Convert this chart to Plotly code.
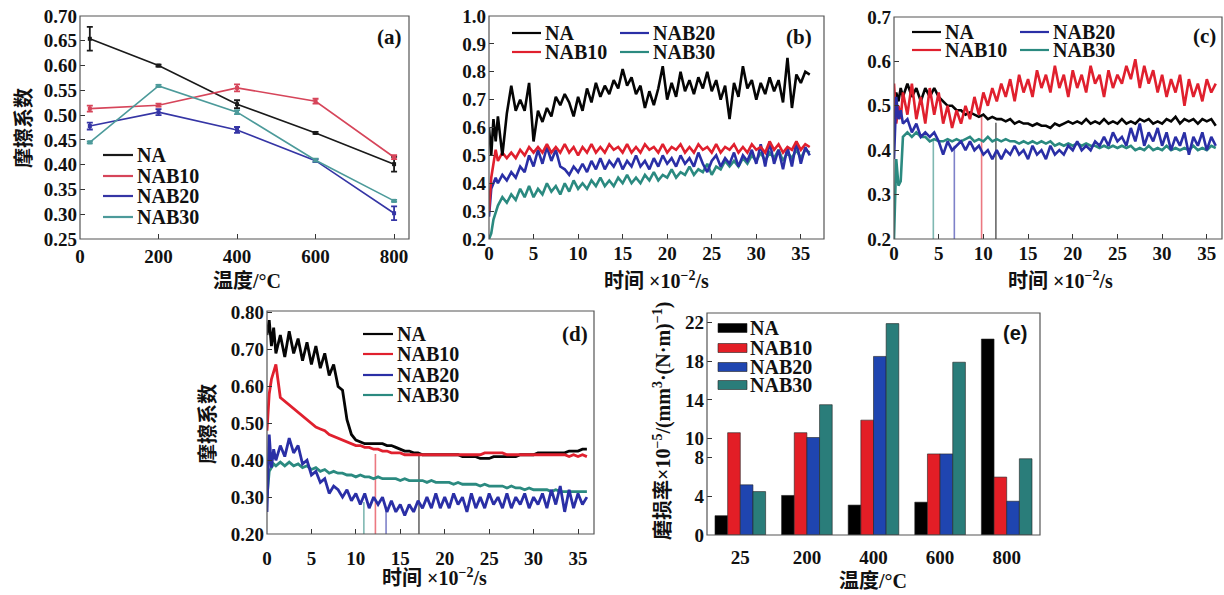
import plotly.graph_objects as go

# ---------------- data ----------------
SERIES = ["NA", "NAB10", "NAB20", "NAB30"]

# (a) friction coefficient vs temperature
A_TEMP = [25, 200, 400, 600, 800]
A_NA = [0.654, 0.600, 0.522, 0.464, 0.401]
A_NA_ERR = [0.024, 0.002, 0.008, 0.002, 0.015]
A_NAB10 = [0.513, 0.520, 0.555, 0.528, 0.415]
A_NAB10_ERR = [0.006, 0.003, 0.007, 0.005, 0.004]
A_NAB20 = [0.478, 0.506, 0.470, 0.408, 0.302]
A_NAB20_ERR = [0.007, 0.006, 0.006, 0.003, 0.014]
A_NAB30 = [0.445, 0.559, 0.506, 0.409, 0.327]
A_NAB30_ERR = [0.002, 0.002, 0.004, 0.003, 0.002]

# time grid (x10^2 s) for panels b, c, d
TIME = [0, 0.25, 0.5, 0.75, 1.0, 1.5, 2.0, 2.5, 3.0, 3.5,
        4.0, 4.5, 5.0, 5.5, 6.0, 6.5, 7.0, 7.5, 8.0, 8.5,
        9.0, 9.5, 10.0, 10.5, 11.0, 11.5, 12.0, 12.5, 13.0, 13.5,
        14.0, 14.5, 15.0, 15.5, 16.0, 16.5, 17.0, 17.5, 18.0, 18.5,
        19.0, 19.5, 20.0, 20.5, 21.0, 21.5, 22.0, 22.5, 23.0, 23.5,
        24.0, 24.5, 25.0, 25.5, 26.0, 26.5, 27.0, 27.5, 28.0, 28.5,
        29.0, 29.5, 30.0, 30.5, 31.0, 31.5, 32.0, 32.5, 33.0, 33.5,
        34.0, 34.5, 35.0, 35.5, 36.0]

# (b)
B_NA = [0.60, 0.50, 0.63, 0.55, 0.64, 0.50, 0.65, 0.75, 0.66, 0.70,
        0.66, 0.76, 0.55, 0.66, 0.62, 0.67, 0.64, 0.71, 0.68, 0.72,
        0.69, 0.64, 0.71, 0.66, 0.74, 0.69, 0.76, 0.71, 0.75, 0.72,
        0.77, 0.74, 0.81, 0.75, 0.78, 0.72, 0.75, 0.67, 0.73, 0.68,
        0.74, 0.82, 0.70, 0.76, 0.71, 0.80, 0.73, 0.77, 0.72, 0.78,
        0.74, 0.80, 0.73, 0.77, 0.70, 0.75, 0.63, 0.76, 0.71, 0.82,
        0.74, 0.77, 0.70, 0.76, 0.72, 0.78, 0.73, 0.77, 0.69, 0.85,
        0.67, 0.79, 0.76, 0.80, 0.79]
B_NAB10 = [0.30, 0.42, 0.47, 0.52, 0.48, 0.51, 0.49, 0.51, 0.49, 0.52,
           0.50, 0.53, 0.51, 0.53, 0.51, 0.54, 0.51, 0.53, 0.51, 0.54,
           0.51, 0.53, 0.50, 0.53, 0.51, 0.54, 0.51, 0.53, 0.51, 0.54,
           0.52, 0.53, 0.51, 0.54, 0.51, 0.53, 0.51, 0.54, 0.52, 0.53,
           0.51, 0.54, 0.51, 0.53, 0.52, 0.54, 0.51, 0.53, 0.51, 0.54,
           0.52, 0.53, 0.51, 0.54, 0.51, 0.53, 0.52, 0.54, 0.51, 0.53,
           0.51, 0.54, 0.52, 0.53, 0.51, 0.55, 0.52, 0.54, 0.51, 0.53,
           0.52, 0.55, 0.52, 0.54, 0.53]
B_NAB20 = [0.28, 0.38, 0.40, 0.42, 0.40, 0.43, 0.41, 0.44, 0.42, 0.46,
           0.44, 0.50, 0.46, 0.52, 0.47, 0.53, 0.48, 0.52, 0.46, 0.45,
           0.43, 0.46, 0.44, 0.47, 0.44, 0.48, 0.45, 0.49, 0.45, 0.48,
           0.46, 0.49, 0.45, 0.48, 0.46, 0.50, 0.46, 0.48, 0.45, 0.49,
           0.46, 0.50, 0.47, 0.49, 0.46, 0.50, 0.47, 0.49, 0.46, 0.51,
           0.47, 0.44, 0.48, 0.50, 0.46, 0.49, 0.47, 0.51, 0.46, 0.50,
           0.48, 0.52, 0.47, 0.54, 0.46, 0.55, 0.47, 0.52, 0.45, 0.53,
           0.46, 0.55, 0.47, 0.53, 0.50]
B_NAB30 = [0.20, 0.22, 0.27, 0.30, 0.32, 0.35, 0.33, 0.36, 0.34, 0.38,
           0.35, 0.39, 0.35, 0.38, 0.36, 0.40, 0.37, 0.39, 0.36, 0.40,
           0.37, 0.41, 0.38, 0.40, 0.38, 0.41, 0.39, 0.42, 0.39, 0.41,
           0.39, 0.42, 0.40, 0.43, 0.40, 0.42, 0.40, 0.43, 0.41, 0.44,
           0.41, 0.43, 0.42, 0.45, 0.42, 0.44, 0.43, 0.46, 0.43, 0.45,
           0.44, 0.47, 0.43, 0.46, 0.45, 0.48, 0.46, 0.48, 0.46, 0.49,
           0.47, 0.50, 0.48, 0.51, 0.48, 0.51, 0.49, 0.52, 0.48, 0.51,
           0.49, 0.52, 0.49, 0.52, 0.51]

# (c)
C_NA = [0.47, 0.53, 0.51, 0.54, 0.52, 0.55, 0.52, 0.54, 0.51, 0.54,
        0.52, 0.54, 0.52, 0.51, 0.50, 0.50, 0.49, 0.49, 0.48, 0.485,
        0.48, 0.475, 0.48, 0.47, 0.475, 0.47, 0.47, 0.465, 0.47, 0.46,
        0.465, 0.46, 0.46, 0.455, 0.46, 0.455, 0.455, 0.45, 0.46, 0.455,
        0.46, 0.465, 0.46, 0.465, 0.46, 0.47, 0.46, 0.465, 0.46, 0.47,
        0.46, 0.465, 0.46, 0.47, 0.46, 0.465, 0.46, 0.47, 0.465, 0.47,
        0.46, 0.465, 0.46, 0.47, 0.465, 0.475, 0.46, 0.47, 0.465, 0.47,
        0.46, 0.47, 0.465, 0.47, 0.455]
C_NAB10 = [0.55, 0.46, 0.50, 0.47, 0.53, 0.48, 0.55, 0.47, 0.52, 0.46,
           0.54, 0.48, 0.53, 0.46, 0.50, 0.45, 0.49, 0.46, 0.50, 0.47,
           0.52, 0.48, 0.53, 0.50, 0.54, 0.51, 0.55, 0.52, 0.56, 0.51,
           0.57, 0.53, 0.56, 0.52, 0.58, 0.54, 0.57, 0.53, 0.59, 0.54,
           0.57, 0.52, 0.58, 0.54, 0.57, 0.53, 0.59, 0.55, 0.57, 0.52,
           0.58, 0.54, 0.57, 0.55, 0.59, 0.56, 0.605, 0.54, 0.59, 0.55,
           0.58, 0.53, 0.57, 0.52, 0.56, 0.53, 0.57, 0.50, 0.56, 0.52,
           0.55, 0.51, 0.56, 0.53, 0.55]
C_NAB20 = [0.38, 0.52, 0.47, 0.49, 0.46, 0.47, 0.44, 0.46, 0.43, 0.44,
           0.43, 0.44, 0.42, 0.39, 0.42, 0.40, 0.41, 0.42, 0.40, 0.42,
           0.40, 0.41, 0.39, 0.40, 0.38, 0.40, 0.38, 0.40, 0.39, 0.41,
           0.39, 0.40, 0.38, 0.41, 0.39, 0.40, 0.38, 0.41, 0.39, 0.40,
           0.39, 0.41, 0.40, 0.42, 0.40, 0.41, 0.40, 0.42, 0.41, 0.43,
           0.41, 0.44, 0.42, 0.43, 0.41, 0.45, 0.42, 0.46, 0.41, 0.44,
           0.42, 0.45, 0.41, 0.44, 0.40, 0.43, 0.41, 0.44, 0.39, 0.43,
           0.41, 0.44, 0.40, 0.43, 0.41]
C_NAB30 = [0.20, 0.38, 0.32, 0.33, 0.43, 0.44, 0.43, 0.44, 0.43, 0.43,
           0.42, 0.425, 0.42, 0.42, 0.425, 0.42, 0.425, 0.42, 0.425, 0.43,
           0.42, 0.425, 0.42, 0.43, 0.42, 0.425, 0.42, 0.425, 0.42, 0.42,
           0.415, 0.42, 0.415, 0.42, 0.415, 0.42, 0.415, 0.42, 0.41, 0.415,
           0.41, 0.415, 0.41, 0.415, 0.41, 0.415, 0.41, 0.41, 0.405, 0.41,
           0.405, 0.41, 0.405, 0.41, 0.405, 0.41, 0.40, 0.405, 0.40, 0.41,
           0.40, 0.405, 0.40, 0.41, 0.40, 0.405, 0.40, 0.405, 0.40, 0.41,
           0.40, 0.405, 0.40, 0.41, 0.405]
C_MARK_X = [11.4, 9.8, 6.75, 4.4]      # NA, NAB10, NAB20, NAB30
C_MARK_Y = [0.462, 0.478, 0.41, 0.423]

# (d)
D_NA = [0.74, 0.78, 0.71, 0.76, 0.69, 0.74, 0.68, 0.75, 0.69, 0.73,
        0.67, 0.72, 0.66, 0.71, 0.65, 0.69, 0.63, 0.66, 0.60, 0.59,
        0.51, 0.47, 0.455, 0.45, 0.445, 0.445, 0.445, 0.445, 0.445, 0.44,
        0.44, 0.435, 0.43, 0.425, 0.425, 0.42, 0.42, 0.415, 0.415, 0.415,
        0.415, 0.415, 0.415, 0.415, 0.415, 0.415, 0.41, 0.41, 0.41, 0.41,
        0.405, 0.405, 0.405, 0.41, 0.41, 0.41, 0.41, 0.41, 0.41, 0.415,
        0.415, 0.415, 0.415, 0.42, 0.42, 0.42, 0.42, 0.42, 0.42, 0.42,
        0.425, 0.425, 0.425, 0.43, 0.43]
D_NAB10 = [0.48, 0.58, 0.62, 0.64, 0.66, 0.57, 0.56, 0.55, 0.54, 0.53,
           0.52, 0.51, 0.50, 0.49, 0.485, 0.48, 0.47, 0.465, 0.46, 0.455,
           0.45, 0.445, 0.44, 0.44, 0.435, 0.435, 0.43, 0.43, 0.425, 0.425,
           0.42, 0.42, 0.42, 0.415, 0.415, 0.415, 0.415, 0.415, 0.415, 0.415,
           0.415, 0.415, 0.415, 0.415, 0.415, 0.415, 0.415, 0.415, 0.415, 0.415,
           0.415, 0.42, 0.42, 0.42, 0.42, 0.42, 0.415, 0.415, 0.415, 0.415,
           0.415, 0.415, 0.415, 0.415, 0.415, 0.415, 0.415, 0.415, 0.415, 0.415,
           0.41, 0.415, 0.41, 0.415, 0.41]
D_NAB20 = [0.26, 0.47, 0.38, 0.43, 0.40, 0.44, 0.41, 0.46, 0.42, 0.44,
           0.39, 0.40, 0.36, 0.37, 0.34, 0.35, 0.31, 0.33, 0.32, 0.30,
           0.32, 0.29, 0.31, 0.28, 0.31, 0.27, 0.30, 0.28, 0.30, 0.26,
           0.29, 0.26, 0.28, 0.25, 0.28, 0.26, 0.29, 0.27, 0.30, 0.27,
           0.31, 0.27, 0.30, 0.27, 0.31, 0.28, 0.30, 0.26, 0.31, 0.27,
           0.30, 0.27, 0.31, 0.28, 0.30, 0.27, 0.31, 0.27, 0.30, 0.28,
           0.31, 0.27, 0.30, 0.28, 0.31, 0.27, 0.32, 0.28, 0.33, 0.26,
           0.32, 0.27, 0.31, 0.28, 0.30]
D_NAB30 = [0.30, 0.37, 0.38, 0.39, 0.385, 0.395, 0.385, 0.395, 0.385, 0.39,
           0.38, 0.385, 0.375, 0.38, 0.37, 0.375, 0.365, 0.37, 0.365, 0.365,
           0.36, 0.36, 0.355, 0.36, 0.355, 0.355, 0.35, 0.355, 0.35, 0.35,
           0.35, 0.35, 0.345, 0.35, 0.345, 0.345, 0.345, 0.345, 0.34, 0.345,
           0.34, 0.34, 0.34, 0.34, 0.335, 0.34, 0.335, 0.335, 0.335, 0.335,
           0.33, 0.335, 0.33, 0.33, 0.33, 0.33, 0.325, 0.33, 0.325, 0.325,
           0.32, 0.325, 0.32, 0.32, 0.32, 0.32, 0.315, 0.32, 0.315, 0.315,
           0.315, 0.315, 0.315, 0.315, 0.315]
D_MARK_X = [17.1, 12.2, 13.4, 10.9]    # NA, NAB10, NAB20, NAB30
D_MARK_Y = [0.416, 0.417, 0.27, 0.287]

# (e) wear rate
E_TEMP = ["25", "200", "400", "600", "800"]
E_NA = [2.0, 4.1, 3.1, 3.4, 20.3]
E_NAB10 = [10.6, 10.6, 11.9, 8.4, 6.0]
E_NAB20 = [5.2, 10.1, 18.5, 8.4, 3.5]
E_NAB30 = [4.5, 13.5, 21.9, 17.9, 7.9]

# ---------------- styling ----------------
W, H = 1224, 595
LINE_A = ["#1a1a1a", "#d6455a", "#3535a5", "#4c9a9a"]
LINE_T = ["#050505", "#e0202e", "#2a2fa6", "#2b8a80"]
BAR_C = ["#000000", "#e31e26", "#1f45b0", "#2a7d7a"]
SERIF = "Liberation Serif"
MIX = "Liberation Serif, Noto Sans CJK SC"
CJK = "Noto Sans CJK SC"


def px(x):
    return x / W


def py(y):
    return 1 - y / H


fig = go.Figure()

# (a)
a_vals = [A_NA, A_NAB10, A_NAB20, A_NAB30]
a_errs = [A_NA_ERR, A_NAB10_ERR, A_NAB20_ERR, A_NAB30_ERR]
for name, v, e, c in zip(SERIES, a_vals, a_errs, LINE_A):
    fig.add_trace(go.Scatter(
        x=A_TEMP, y=v, name=name, mode="lines+markers",
        line=dict(color=c, width=1.6), marker=dict(color=c, size=4, symbol="square"),
        error_y=dict(type="data", array=e, color=c, thickness=1.8, width=3),
        xaxis="x", yaxis="y", showlegend=False))

# (b), (c), (d)
panels = [
    ("x2", "y2", [B_NA, B_NAB10, B_NAB20, B_NAB30], None, None),
    ("x3", "y3", [C_NA, C_NAB10, C_NAB20, C_NAB30], C_MARK_X, C_MARK_Y),
    ("x4", "y4", [D_NA, D_NAB10, D_NAB20, D_NAB30], D_MARK_X, D_MARK_Y),
]
for xa, ya, vals, mx, my in panels:
    if mx is not None:
        for i, c in enumerate(LINE_T):
            fig.add_trace(go.Scatter(
                x=[mx[i], mx[i]], y=[0.2, my[i]], mode="lines",
                line=dict(color=c, width=1.6), opacity=0.6,
                xaxis=xa, yaxis=ya, showlegend=False, hoverinfo="skip"))
    order = [3, 2, 1, 0] if xa == "x2" else [0, 1, 3, 2]
    for i in order:
        w = 2.6 if xa != "x4" else 2.8
        fig.add_trace(go.Scatter(
            x=TIME, y=vals[i], name=SERIES[i], mode="lines",
            line=dict(color=LINE_T[i], width=w),
            xaxis=xa, yaxis=ya, showlegend=False))

# (e)
for name, v, c in zip(SERIES, [E_NA, E_NAB10, E_NAB20, E_NAB30], BAR_C):
    fig.add_trace(go.Bar(
        x=E_TEMP, y=v, name=name, marker=dict(color=c, line=dict(color="#222", width=0.6)),
        xaxis="x5", yaxis="y5", showlegend=False))

tickfont = dict(family=SERIF, size=19, color="#111", weight="bold")


def xax(domain, rng, dtick, anchor, standoff, **kw):
    d = dict(domain=domain, range=rng, dtick=dtick, tick0=0, anchor=anchor,
             showgrid=False, zeroline=False, showline=False, automargin=False,
             ticks="inside", ticklen=5, tickcolor="#333", tickwidth=1,
             tickfont=tickfont, ticklabelstandoff=standoff)
    d.update(kw)
    return d


def yax(domain, rng, dtick, anchor, fmt, **kw):
    d = dict(domain=domain, range=rng, dtick=dtick, tick0=0, anchor=anchor,
             showgrid=False, zeroline=False, showline=False, automargin=False,
             ticks="inside", ticklen=5, tickcolor="#333", tickwidth=1,
             tickfont=tickfont, tickformat=fmt, ticklabelstandoff=2)
    d.update(kw)
    return d


YA = [py(239), py(16)]
fig.update_layout(
    width=W, height=H, margin=dict(l=0, r=0, t=0, b=0, autoexpand=False),
    paper_bgcolor="white", plot_bgcolor="white",
    barmode="group", bargap=0.24, bargroupgap=0,
    xaxis=xax([px(80), px(409)], [0, 838], 200, "y", 4),
    yaxis=yax(YA, [0.25, 0.70], 0.05, "x", ".2f"),
    xaxis2=xax([px(489), px(824)], [0, 37.6], 5, "y2", 1),
    yaxis2=yax(YA, [0.2, 1.0], 0.1, "x2", ".1f"),
    xaxis3=xax([px(894), px(1222)], [0, 36.7], 5, "y3", 1),
    yaxis3=yax([py(239), py(17)], [0.2, 0.7], 0.1, "x3", ".1f"),
    xaxis4=xax([px(267), px(594)], [0, 36.8], 5, "y4", 11),
    yaxis4=yax([py(534), py(311)], [0.2, 0.805], 0.1, "x4", ".2f"),
    xaxis5=dict(domain=[px(707), px(1040)], anchor="y5", type="category",
                showgrid=False, zeroline=False, showline=False, ticks="",
                automargin=False, tickfont=tickfont, ticklabelstandoff=9),
    yaxis5=yax([py(535), py(313)], [0, 23], None, "x5", "d",
               tickmode="array", tickvals=[0, 4, 8, 10, 14, 18, 22]),
)

# frames
shapes = []
for xa, ya in [("x", "y"), ("x2", "y2"), ("x3", "y3"), ("x4", "y4"), ("x5", "y5")]:
    shapes.append(dict(type="rect", xref=xa + " domain", yref=ya + " domain",
                       x0=0, x1=1, y0=0, y1=1, line=dict(color="#555", width=1.2),
                       fillcolor="rgba(0,0,0,0)", layer="above"))

annotations = []


def text(x, y, s, size, family=SERIF, xanchor="left", angle=0, color="#111"):
    annotations.append(dict(x=px(x), y=py(y), xref="paper", yref="paper", text=s,
                            showarrow=False, xanchor=xanchor, yanchor="middle",
                            textangle=angle, borderpad=0,
                            font=dict(family=family, size=size, color=color,
                                      weight="bold")))


def legend_line(x0, x1, y, color, label, size=20):
    shapes.append(dict(type="line", xref="paper", yref="paper", x0=px(x0), x1=px(x1),
                       y0=py(y), y1=py(y), line=dict(color=color, width=2.2)))
    text(x1 + 3, y, label, size)


# legends
for i, yy in enumerate([155, 176, 196, 217]):
    legend_line(103, 133, yy, LINE_A[i], SERIES[i])
for (x0, yy), i in zip([(512, 33), (512, 52), (620, 33), (620, 52)], [0, 1, 2, 3]):
    legend_line(x0, x0 + 29, yy, LINE_T[i], SERIES[i])
for (x0, yy), i in zip([(912, 32), (912, 50), (1020, 32), (1020, 50)], [0, 1, 2, 3]):
    legend_line(x0, x0 + 29, yy, LINE_T[i], SERIES[i])
for i, yy in enumerate([334, 354, 375, 395]):
    legend_line(363, 393, yy, LINE_T[i], SERIES[i])
for i, yy in enumerate([328, 348, 367, 385]):
    shapes.append(dict(type="rect", xref="paper", yref="paper", x0=px(718), x1=px(747),
                       y0=py(yy + 4.5), y1=py(yy - 4.5), fillcolor=BAR_C[i],
                       line=dict(color="#222", width=0.6)))
    text(749, yy, SERIES[i], 20)

# panel labels
text(389, 37, "(a)", 21, xanchor="center")
text(799, 37, "(b)", 21, xanchor="center")
text(1204, 36, "(c)", 21, xanchor="center")
text(575, 334, "(d)", 21, xanchor="center")
text(1015, 333, "(e)", 20, family="Liberation Sans", xanchor="center")

# axis titles
text(247, 281, "温度/°C", 20, family=MIX, xanchor="center")
text(656, 280, "时间 ×10<sup>−2</sup>/s", 20, family=MIX, xanchor="center")
text(1060, 280, "时间 ×10<sup>−2</sup>/s", 20, family=MIX, xanchor="center")
text(434, 577, "时间 ×10<sup>−2</sup>/s", 20, family=MIX, xanchor="center")
text(873, 581, "温度/°C", 20, family=MIX, xanchor="center")
text(22, 128, "摩擦系数", 20, family=CJK, xanchor="center", angle=-90)
text(206, 424, "摩擦系数", 20, family=CJK, xanchor="center", angle=-90)
text(662, 421, "磨损率×10<sup>−5</sup>/(mm<sup>3</sup>·(N·m)<sup>−1</sup>)", 20,
     family=MIX, xanchor="center", angle=-90)

fig.update_layout(shapes=shapes, annotations=annotations)
fig.write_html(
    "out.html",
    config={"displayModeBar": False},
    post_script="document.body.style.margin='0';document.body.style.overflow='hidden';",
)
